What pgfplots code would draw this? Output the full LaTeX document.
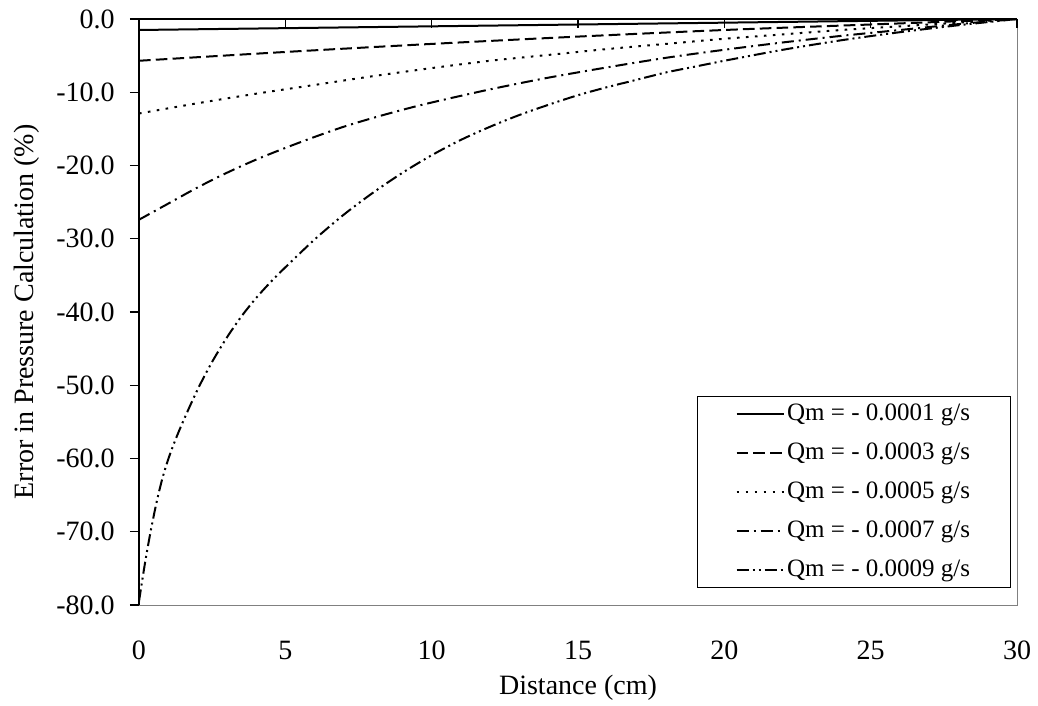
\documentclass[border=0pt]{standalone}
\usepackage{fontspec}
\setmainfont{Liberation Serif}
\usepackage{pgfplots}
\pgfplotsset{compat=1.18}

\pgfplotstableread{
x y
0 -1.5
10 -1.0
20 -0.5
30 0
}\qa
\pgfplotstableread{
x y
0 -5.7
5 -4.5
10 -3.4
15 -2.4
20 -1.5
25 -0.75
30 0
}\qb
\pgfplotstableread{
x y
0 -12.9
2 -11.5
4 -10.2
6 -9.0
8 -7.8
10 -6.7
12 -5.7
14 -4.9
16 -4.1
18 -3.4
20 -2.7
22 -2.1
24 -1.5
26 -1.0
28 -0.5
30 0
}\qc
\pgfplotstableread{
x y
0 -27.4
1 -25.2
2 -23.0
3 -21.0
4 -19.2
5 -17.6
6 -16.1
7 -14.7
8 -13.5
9 -12.4
10 -11.4
12 -9.6
14 -8.0
16 -6.6
18 -5.3
20 -4.2
22 -3.2
24 -2.3
26 -1.5
28 -0.7
30 0
}\qd
\pgfplotstableread{
x y
0 -79.5
0.2 -74.4
0.4 -69.9
0.6 -66.0
0.8 -62.7
1.0 -60.1
1.2 -57.9
1.5 -55.0
2 -50.6
2.5 -46.8
3 -43.5
3.5 -40.6
4 -38.1
4.5 -35.9
5 -33.9
6 -30.1
7 -26.7
8 -23.7
9 -21.0
10 -18.6
11 -16.5
12 -14.7
13 -13.1
14 -11.7
15 -10.4
16 -9.3
17 -8.3
18 -7.3
19 -6.5
20 -5.7
22 -4.2
24 -2.9
26 -1.8
28 -0.85
30 0
}\qe

\begin{document}
\begin{tikzpicture}[font=\fontsize{14}{16}\selectfont]
\pgfplotsset{
  base/.style={scale only axis, width=439pt, height=293pt,
    xmin=0, xmax=30, ymin=-80, ymax=0},
}
% box, tick labels, axis labels, curves, legend
\begin{axis}[base,
  /pgf/number format/assume math mode=true,
  axis line style={draw=gray},
  xtick={0,5,...,30}, xtick pos=left,
  ytick={-80,-70,...,0}, ytick pos=left,
  yticklabels={-80.0,-70.0,-60.0,-50.0,-40.0,-30.0,-20.0,-10.0,0.0},
  tick style={draw=none},
  xticklabel style={anchor=base, yshift=-27pt},
  yticklabel style={anchor=east, inner xsep=0pt, xshift=-12pt},
  xlabel={Distance (cm)},
  xlabel style={at={(axis description cs:0.5,-0.152)}, anchor=base},
  ylabel={Error in Pressure Calculation (\%)},
  ylabel style={at={(axis description cs:-0.1207,0.5)}, anchor=base},
  legend cell align=left,
  legend image code/.code={\draw[#1] (0pt,0pt) -- (23.5pt,0pt);},
  legend style={at={(0.9932,0.029)}, anchor=south east, draw=black,
    line width=0.5pt, inner xsep=19pt, inner ysep=2.6pt, row sep=7.2pt,
    nodes={inner sep=1.25pt},
    font=\fontsize{12.5}{14.5}\selectfont},
  every axis plot/.append style={black, line width=1pt},
]
\addplot[solid, smooth] table {\qa};
\addlegendentry{Qm = - 0.0001 g/s}
\addplot[dash pattern=on 5.8pt off 2.6pt, smooth] table {\qb};
\addlegendentry{Qm = - 0.0003 g/s}
\addplot[dash pattern=on 1.3pt off 3.2pt, smooth] table {\qc};
\addlegendentry{Qm = - 0.0005 g/s}
\addplot[dash pattern=on 6pt off 2.5pt on 1pt off 2.5pt, smooth] table {\qd};
\addlegendentry{Qm = - 0.0007 g/s}
\addplot[dash pattern=on 6pt off 2pt on 1pt off 2pt on 1pt off 2pt, smooth] table {\qe};
\addlegendentry{Qm = - 0.0009 g/s}
\end{axis}
% top x axis line with inward ticks
\begin{axis}[base,
  axis x line*=top, axis y line=none,
  axis line style={black, line width=0.6pt},
  xtick={0,5,...,30}, xticklabels={},
  tick align=inside, major tick length=4.5pt,
  tick style={black, line width=0.6pt},
]
\end{axis}
% left y axis line with outward ticks
\begin{axis}[base,
  axis y line*=left, axis x line=none,
  axis line style={black, line width=0.6pt},
  ytick={-80,-70,...,0}, yticklabels={},
  tick align=outside, major tick length=4.5pt,
  tick style={black, line width=0.6pt},
]
\end{axis}
\pgfresetboundingbox
\useasboundingbox (-69.5pt,-50.5pt) rectangle (449.5pt,302.5pt);
\end{tikzpicture}
\end{document}
